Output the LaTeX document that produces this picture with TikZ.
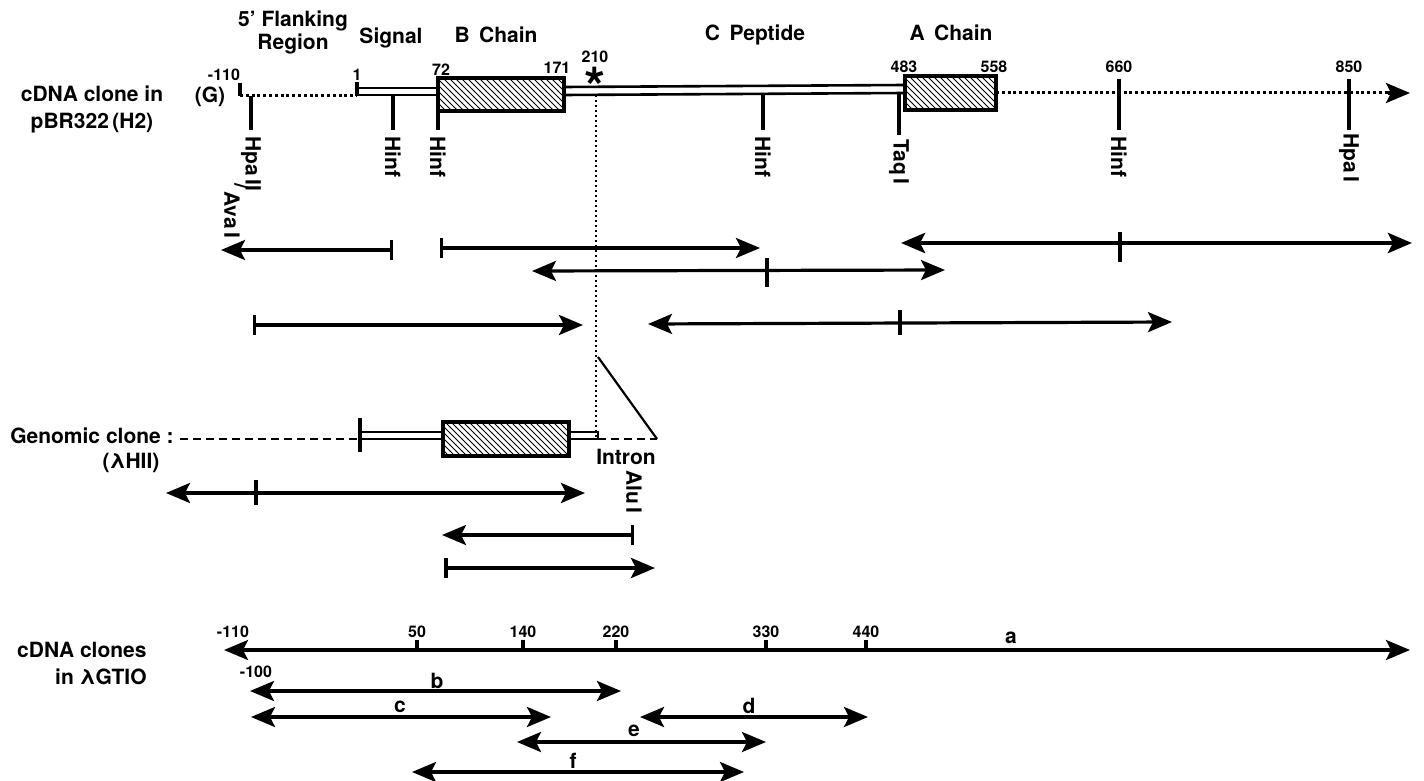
\documentclass[tikz,border=0pt]{standalone}
\usepackage{fontspec}
\setmainfont{TeX Gyre Heros}
\usetikzlibrary{arrows.meta,patterns}
\begin{document}
\begin{tikzpicture}[x=0.5pt,y=-0.5pt,
  lbl/.style={font=\bfseries\fontsize{10.5}{13.5}\selectfont, inner sep=0pt},
  num/.style={font=\bfseries\fontsize{8}{9}\selectfont, inner sep=0pt},
  site/.style={lbl, rotate=-90, anchor=west},
  tk/.style={line width=1.6pt},
  dl/.style={line width=1.3pt},
  dotl/.style={line width=1.5pt, dash pattern=on 1.5pt off 1.4pt},
  vdot/.style={line width=1.1pt, dash pattern=on 1.1pt off 1.4pt},
  dashl/.style={line width=1.2pt, dash pattern=on 4pt off 2.5pt},
  ar/.style={line width=1.6pt, -{Stealth[length=12pt,width=10pt,inset=2.5pt]}},
  dar/.style={line width=1.6pt, {Stealth[length=12pt,width=10pt,inset=2.5pt]}-{Stealth[length=12pt,width=10pt,inset=2.5pt]}},
  barr/.style={line width=1.6pt, {Bar[width=10pt]}-{Stealth[length=12pt,width=10pt,inset=2.5pt]}},
  gbox/.style={line width=1.8pt, pattern=north west lines},
]
\useasboundingbox (0,0) rectangle (1424,781);

% ---------- headings ----------
\node[lbl, font=\bfseries\fontsize{10.5}{11.5}\selectfont, align=center] (flank) at (293,32) {5’ Flanking\\Region};
\node[lbl] (signal) at (391,38) {Signal};
\node[lbl] (bchain) at (496,35) {B\hspace{0.45em}Chain};
\node[lbl] (cpep) at (755,35) {C\hspace{0.45em}Peptide};
\node[lbl] (achain) at (951,33) {A\hspace{0.45em}Chain};

% ---------- cDNA clone in pBR322 ----------
\node[lbl, align=center] (lcdna) at (92,109) {cDNA clone\ in\\pBR322\,(H2)};
\node[lbl] (G) at (210,97) {(G)};
\node[num] (n110) at (224,75) {-110};
\node[num] (n1) at (357,75) {1};
\node[num] (n72) at (441,70) {72};
\node[num] (n171) at (557,68) {171};
\node[num] (n210) at (595,57) {210};
\node[font=\bfseries\fontsize{27}{27}\selectfont, inner sep=0pt, anchor=base] (star) at (595,106) {*};
\node[num] (n483) at (904,67) {483};
\node[num] (n558) at (994,67) {558};
\node[num] (n660) at (1119,67) {660};
\node[num] (n850) at (1349,67) {850};

\draw[tk] (240,83) -- (240,96);
\draw[dotl] (240,96) -- (357,96);
\draw[tk] (357,82) -- (357,96);
\draw[dl] (357,88) -- (438,88);
\draw[dl] (357,95) -- (438,95);
\draw[gbox] (438,78) rectangle (564,111);
\draw[dl] (564,87) -- (905,85);
\draw[dl] (564,95) -- (905,93);
\draw[gbox] (905,76) rectangle (996,110);
\draw[dotl] (996,93) -- (1392,93);
\draw[ar] (1388,93) -- (1410,93);

% restriction sites
\draw[tk] (251,96) -- (251,130);
\draw[tk] (393,95) -- (393,130);
\draw[tk] (438,111) -- (438,130);
\draw[tk] (763,94) -- (763,130);
\draw[line width=2.1pt] (899,93) -- (899,135);
\draw[tk] (1119,79) -- (1119,130);
\draw[tk] (1349,79) -- (1349,130);
\node[site] (hpa2) at (251,136) {Hpa\,II};
\node[lbl, rotate=-90] (slash) at (242,186) {/};
\node[site] (ava) at (232,191) {Ava\,I};
\node[site] (hinf1) at (393,136) {Hinf};
\node[site] (hinf2) at (438,136) {Hinf};
\node[site] (hinf3) at (763,136) {Hinf};
\node[site] (taq) at (899,139) {Taq\,I};
\node[site] (hinf4) at (1119,136) {Hinf};
\node[site] (hpa1) at (1349,133) {Hpa\,I};

% dotted guide and intron wedge
\draw[vdot] (596,95) -- (596,439);
\draw[line width=1.1pt] (598,357) -- (657,439);

% ---------- fragment arrows (cDNA) ----------
\draw[barr] (393,250) -- (221,250);
\draw[barr] (440,248) -- (760,248);
\draw[line width=2.3pt, {Stealth[length=12pt,width=10pt,inset=2.5pt]}-{Stealth[length=12pt,width=10pt,inset=2.5pt]}] (901,243) -- (1412,243);
\draw[tk] (1120,232) -- (1120,262);
\draw[dar] (532,271) -- (945,270);
\draw[tk] (767,258) -- (767,287);
\draw[barr] (253,325) -- (583,325);
\draw[dar] (648,324) -- (1172,322);
\draw[tk] (900,310) -- (900,335);

% ---------- genomic clone ----------
\node[lbl] (lgen) at (92,436) {Genomic clone :};
\node[lbl] (lgen2) at (131,463) {(λHII)};
\draw[dashl] (180,439) -- (360,439);
\draw[tk] (360,418) -- (360,452);
\draw[dl] (360,432) -- (443,432);
\draw[dl] (360,439) -- (443,439);
\draw[gbox] (443,422) rectangle (569,456);
\draw[dl] (569,432) -- (598,432) -- (598,439) -- (569,439);
\draw[dashl] (598,439) -- (657,439);
\node[lbl] (intron) at (626,457) {Intron};
\node[site] (alu) at (634,470) {Alu\,I};

\draw[dar] (166,493) -- (585,493);
\draw[tk] (256,480) -- (256,505);
\draw[barr] (634,535) -- (442,535);
\draw[line width=2pt, {Bar[width=10pt]}-{Stealth[length=12pt,width=10pt,inset=2.5pt]}] (444,568) -- (655,568);

% ---------- cDNA clones in lambda GT10 ----------
\node[lbl, align=right, anchor=east] (lgt) at (147,663) {cDNA clones\\in λGTIO};
\draw[dar] (224,650) -- (1410,650);
\foreach \xx/\tt in {417/50,523/140,616/220,766/330,866/440}{
  \draw[tk] (\xx,650) -- (\xx,640);
  \node[num] at (\xx,632) {\tt};
}
\node[num] (m110) at (233,632) {-110};
\node[lbl] (la) at (1011,638) {a};
\node[num] (m100) at (256,672) {-100};
\draw[dar] (250,691) -- (621,691);
\node[lbl] (lb) at (437,681) {b};
\draw[dar] (251,717) -- (551,717);
\node[lbl] (lc) at (400,707) {c};
\draw[dar] (640,717) -- (868,717);
\node[lbl] (ld) at (749,706) {d};
\draw[dar] (517,742) -- (766,742);
\node[lbl] (le) at (634,731) {e};
\draw[dar] (412,772) -- (744,772);
\node[lbl] (lf) at (573,761) {f};
\end{tikzpicture}
\end{document}
